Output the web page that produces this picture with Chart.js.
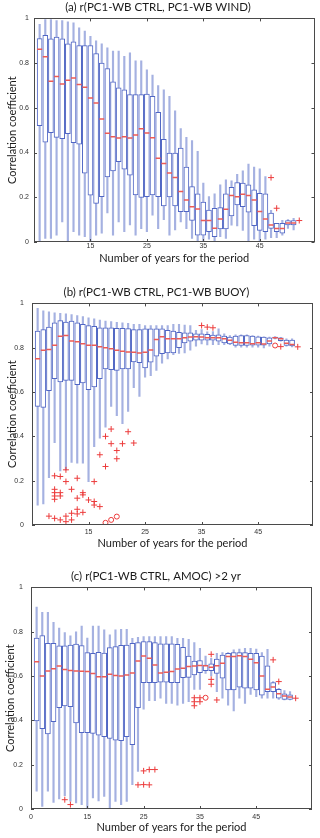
<!DOCTYPE html>
<html>
<head>
<meta charset="utf-8">
<script src="https://cdn.jsdelivr.net/npm/chart.js@4.4.1/dist/chart.umd.min.js"></script>
<style>
  html, body { margin: 0; padding: 0; background: #fff; width: 320px; height: 838px; overflow: hidden; }
  .panel { position: absolute; left: 0; width: 320px; }
</style>
</head>
<body>
<div class="panel" style="top:0px;height:265px"><canvas id="pa"></canvas></div>
<div class="panel" style="top:280px;height:270px"><canvas id="pb"></canvas></div>
<div class="panel" style="top:560px;height:274px"><canvas id="pc"></canvas></div>
<script>
// box index (period length = index + 5 years)
const boxPos = [1,2,3,4,5,6,7,8,9,10,11,12,13,14,15,16,17,18,19,20,21,22,23,24,25,26,27,28,29,30,31,32,33,34,35,36,37,38,39,40,41,42,43,44,45,46,47];
const xTickPos = [0, 10, 20, 30, 40];
const xTickLabelsAB = ['', '15', '25', '35', '45'];
const xTickLabelsC = ['0', '15', '25', '35', '45'];
const yTickPos = [0, 0.2, 0.4, 0.6, 0.8, 1];
const yTickLabels = ['0', '0.2', '0.4', '0.6', '0.8', '1'];

// (a) r(PC1-WB CTRL, PC1-WB WIND)
const aLow  = [0.0,0.016,0.016,0.03,0.09,0.0,0.046,0.03,0.024,0.0, 0.03,0.04,0.13,0.03,0.09,0.046,0.076,0.03,0.06,0.046, 0.12,0.06,0.1,0.03,0.054,0.09,0.06,0.016,0.0,0.0, 0.013,0.0,0.024,0.016,0.075,0.072,0.052,0.0,0.013,0.0, 0.013,0.019,0.019,0.031,0.061,0.054,null];
const aQ1   = [0.52,0.447,0.489,0.468,0.462,0.484,0.444,0.438,0.308,0.209, 0.173,0.203,0.291,0.318,0.359,0.326,0.299,0.21,0.199,0.203, 0.21,0.203,0.161,0.202,0.161,0.136,0.136,0.096,0.03,0.031, 0.046,0.024,0.058,0.058,0.117,0.166,0.158,0.133,0.073,0.052, 0.046,0.061,0.046,0.04,0.076,0.076,null];
const aMed  = [0.862,0.828,0.719,0.74,0.707,0.723,0.734,0.704,0.692,0.644, 0.622,0.55,0.486,0.471,0.465,0.471,0.465,0.478,0.507,0.487, 0.466,0.374,0.351,0.309,0.288,0.226,0.188,0.158,0.148,0.096, 0.096,0.061,0.103,0.146,0.208,0.202,0.214,0.208,0.188,0.136, 0.103,0.076,0.06,0.06,0.085,0.085,null];
const aQ3   = [0.91,0.924,0.909,0.916,0.909,0.886,0.895,0.879,0.879,0.879, 0.843,0.8,0.776,0.716,0.689,0.68,0.659,0.659,0.659,0.662, 0.652,0.58,0.459,0.398,0.398,0.42,0.335,0.248,0.215,0.178, 0.143,0.151,0.154,0.215,0.245,0.266,0.263,0.256,0.233,0.218, 0.215,0.129,0.084,0.084,0.096,0.096,null];
const aHigh = [0.973,0.995,0.995,0.99,0.99,0.985,0.98,0.958,0.943,0.92, 0.9,0.886,0.868,0.854,0.854,0.83,0.846,0.81,0.81,0.77, 0.746,0.7,0.68,0.652,0.587,0.507,0.468,0.454,0.405,0.263, 0.203,0.215,0.256,0.278,0.274,0.303,0.318,0.348,0.335,0.327, 0.293,0.142,0.084,0.097,0.1,0.106,null];
const aOutX = [42, 43, 47];
const aOutY = [0.288, 0.151, 0.096];
const aCircX = [];
const aCircY = [];

// (b) r(PC1-WB CTRL, PC1-WB BUOY)
const bLow  = [0.09,0.095,0.214,0.372,0.244,0.249,0.282,0.279,0.279,0.196, 0.354,0.392,0.442,0.535,0.493,0.457,0.513,0.62,0.58,0.667, 0.674,0.697,0.73,0.75,0.769,0.774,0.777,0.789,0.807,0.817, 0.813,0.814,0.814,0.814,0.814,0.802,0.802,0.802,0.802,0.802, 0.799,0.807,0.84,0.83,0.807,0.804,null];
const bQ1   = [0.535,0.531,0.606,0.66,0.646,0.652,0.653,0.633,0.641,0.611, 0.623,0.66,0.704,0.701,0.697,0.704,0.704,0.736,0.732,0.709, 0.735,0.762,0.773,0.777,0.777,0.8,0.822,0.83,0.834,0.834, 0.834,0.834,0.83,0.822,0.817,0.81,0.81,0.81,0.811,0.811, 0.811,0.817,0.843,0.832,0.81,0.808,null];
const bMed  = [0.75,0.789,0.792,0.811,0.852,0.855,0.83,0.827,0.818,0.811, 0.811,0.804,0.8,0.795,0.789,0.784,0.781,0.78,0.776,0.78, 0.79,0.837,0.85,0.84,0.84,0.84,0.845,0.848,0.849,0.848, 0.845,0.845,0.845,0.84,0.834,0.825,0.822,0.822,0.818,0.822, 0.817,0.83,0.845,0.84,0.82,0.815,null];
const bQ3   = [0.875,0.882,0.893,0.912,0.922,0.916,0.92,0.912,0.905,0.9, 0.897,0.89,0.89,0.89,0.887,0.887,0.886,0.882,0.882,0.885, 0.885,0.885,0.885,0.879,0.875,0.87,0.867,0.867,0.863,0.863, 0.86,0.857,0.858,0.852,0.848,0.852,0.855,0.855,0.852,0.849, 0.848,0.845,0.848,0.845,0.835,0.835,null];
const bHigh = [0.978,0.967,0.962,0.958,0.955,0.953,0.95,0.945,0.94,0.935, 0.93,0.925,0.92,0.918,0.915,0.912,0.91,0.905,0.905,0.9, 0.9,0.9,0.9,0.9,0.905,0.905,0.902,0.9,0.878,0.882, 0.872,0.873,0.885,0.863,0.855,0.858,0.858,0.858,0.855,0.852, 0.849,0.848,0.85,0.847,0.84,0.84,null];
const bOutX = [3, 4,4,4,4,4,4, 5,5,5,5, 6,6,6,6, 7,7,7, 8,8,8,8, 9,9,9, 10, 11,11,11, 12,12, 13,13, 14,14, 15,15, 16, 17, 18, 30,31,32, 44, 47];
const bOutY = [0.04, 0.222,0.161,0.146,0.131,0.116,0.03, 0.219,0.146,0.131,0.023, 0.249,0.196,0.04,0.015, 0.161,0.053,0.023, 0.211,0.121,0.071,0.05, 0.146,0.136,0.057, 0.113, 0.196,0.106,0.09, 0.317,0.083, 0.264,0.4, 0.433,0.367, 0.336,0.299, 0.367, 0.421, 0.37, 0.9,0.893,0.89, 0.805, 0.804];
const bCircX = [13, 14, 15, 43];
const bCircY = [0.01, 0.023, 0.038, 0.81];

// (c) r(PC1-WB CTRL, AMOC) >2 yr
const cLow  = [0.08,0.012,0.08,0.03,0.045,0.06,0.035,0.027,0.019,0.0, 0.05,0.037,0.057,0.0,0.034,0.019,0.034,0.11,0.17,0.45, 0.489,0.489,0.5,0.477,0.477,0.469,0.477,0.484,0.54,0.54, 0.612,0.6,0.53,0.5,0.469,0.443,0.5,0.477,0.517,0.507, 0.5,0.5,0.5,0.495,0.492,0.492,null];
const cQ1   = [0.398,0.363,0.339,0.394,0.457,0.465,0.462,0.389,0.344,0.344, 0.341,0.333,0.326,0.318,0.311,0.308,0.326,0.29,0.457,0.57, 0.57,0.57,0.572,0.572,0.57,0.57,0.593,0.594,0.605,0.615, 0.624,0.624,0.612,0.59,0.537,0.537,0.55,0.545,0.545,0.537, 0.514,0.53,0.53,0.5,0.495,0.495,null];
const cMed  = [0.665,0.6,0.623,0.633,0.645,0.63,0.625,0.623,0.622,0.621, 0.612,0.597,0.597,0.608,0.603,0.6,0.605,0.614,0.668,0.69, 0.68,0.65,0.614,0.617,0.62,0.632,0.635,0.643,0.645,0.647, 0.646,0.64,0.646,0.658,0.688,0.688,0.692,0.688,0.676,0.66, 0.6,0.54,0.55,0.52,0.51,0.505,null];
const cQ3   = [0.771,0.783,0.748,0.748,0.736,0.736,0.74,0.744,0.738,0.706, 0.703,0.707,0.704,0.728,0.733,0.739,0.74,0.748,0.751,0.756, 0.756,0.751,0.745,0.745,0.745,0.743,0.729,0.69,0.668,0.67, 0.65,0.655,0.676,0.695,0.703,0.706,0.706,0.706,0.703,0.703, 0.69,0.646,0.57,0.54,0.52,0.515,null];
const cHigh = [0.911,0.887,0.887,0.842,0.816,0.796,0.781,0.8,0.826,0.771, 0.826,0.826,0.808,0.786,0.808,0.811,0.811,0.77,0.775,0.778, 0.778,0.778,0.778,0.778,0.778,0.77,0.77,0.766,0.751,0.725, 0.69,0.68,0.703,0.706,0.706,0.718,0.722,0.725,0.725,0.722, 0.706,0.72,0.575,0.545,0.534,0.53,null];
const cOutX = [6, 7, 19, 20,20, 21,21, 22, 29,29,29, 30,30, 32,32,32, 33, 43, 44, 47];
const cOutY = [0.042, 0.02, 0.109, 0.11,0.172, 0.109,0.178, 0.178, 0.502,0.484,0.466, 0.502,0.484, 0.698,0.585,0.563, 0.492, 0.673, 0.575, 0.5];
const cCircX = [31];
const cCircY = [0.502];

const RED = '#ec3b3b';
const MED = '#ee5a55';
const BOX = '#5066c4';
const WHISK = 'rgba(105,125,205,0.6)';
const FONT = 'Lato';

function pts(xs, ys) { return xs.map((x, i) => ({ x: x, y: ys[i] })); }
function ranges(lo, hi) {
  return boxPos.map((p, i) => ({ x: p, y: lo[i] == null ? null : [lo[i], hi[i]] }));
}

// axes box with inward ticks, matlab style
const framePlugin = {
  id: 'frame',
  afterDatasetsDraw(chart) {
    const { ctx, chartArea: a, scales } = chart;
    const x = scales.x, y = scales.y;
    ctx.save();
    ctx.strokeStyle = '#4a4a4a';
    ctx.lineWidth = 1;
    ctx.strokeRect(Math.round(a.left) + 0.5, Math.round(a.top) + 0.5,
      Math.round(a.right - a.left) - 1, Math.round(a.bottom - a.top) - 1);
    ctx.beginPath();
    x.ticks.forEach(t => {
      const px = Math.round(x.getPixelForValue(t.value)) + 0.5;
      ctx.moveTo(px, a.bottom); ctx.lineTo(px, a.bottom - 3);
      ctx.moveTo(px, a.top); ctx.lineTo(px, a.top + 3);
    });
    y.ticks.forEach(t => {
      const py = Math.round(y.getPixelForValue(t.value)) + 0.5;
      ctx.moveTo(a.left, py); ctx.lineTo(a.left + 3, py);
      ctx.moveTo(a.right, py); ctx.lineTo(a.right - 3, py);
    });
    ctx.stroke();
    ctx.restore();
  }
};

function drawPanel(id, title, s, xLabels, g) {
  new Chart(document.getElementById(id), {
    type: 'bar',
    data: {
      datasets: [
        { type: 'scatter', data: pts(s.outX, s.outY), pointStyle: 'cross', radius: 3,
          borderColor: RED, backgroundColor: RED, borderWidth: 1 },
        { type: 'scatter', data: pts(s.circX, s.circY), pointStyle: 'circle', radius: 2.5,
          borderColor: RED, backgroundColor: 'rgba(0,0,0,0)', borderWidth: 1 },
        { type: 'scatter', data: pts(boxPos, s.med), pointStyle: 'line', radius: 2.5,
          borderColor: MED, borderWidth: 1.5 },
        { data: ranges(s.q1, s.q3), backgroundColor: '#ffffff', borderColor: BOX, borderWidth: 1,
          borderSkipped: false, barThickness: 5, grouped: false },
        { data: ranges(s.lo, s.hi), backgroundColor: WHISK, borderWidth: 0,
          barThickness: 1.5, grouped: false }
      ]
    },
    options: {
      responsive: true,
      maintainAspectRatio: false,
      animation: false,
      events: [],
      layout: { padding: { left: 0, right: g.right, top: 0, bottom: 0 } },
      plugins: {
        legend: { display: false },
        tooltip: { enabled: false },
        title: { display: true, text: title, color: '#1a1a1a',
          font: { family: FONT, size: 11.5, weight: 'normal' },
          padding: { top: g.tTop, bottom: g.tBot } }
      },
      scales: {
        x: {
          type: 'linear', min: 0, max: g.xMax, offset: false,
          grid: { display: false, drawTicks: false }, border: { display: false },
          afterBuildTicks: sc => { sc.ticks = xTickPos.map(v => ({ value: v })); },
          ticks: { autoSkip: false, maxRotation: 0, padding: g.xPad, color: '#333',
            font: { family: 'Liberation Sans', size: 7 },
            callback: (v, i) => xLabels[i] },
          title: { display: true, text: 'Number of years for the period', color: '#1a1a1a',
            font: { family: FONT, size: 11 }, padding: { top: 0, bottom: 0 } },
          afterFit: sc => { sc.height = g.xH; }
        },
        y: {
          min: 0, max: 1,
          grid: { display: false, drawTicks: false }, border: { display: false },
          afterBuildTicks: sc => { sc.ticks = yTickPos.map(v => ({ value: v })); },
          ticks: { padding: g.yPad, color: '#333',
            font: { family: 'Liberation Sans', size: 7 },
            callback: (v, i) => yTickLabels[i] },
          title: { display: true, text: 'Correlation coefficient', color: '#1a1a1a',
            font: { family: FONT, size: 11 }, padding: { top: g.yTitlePad, bottom: 0 } },
          afterFit: sc => { sc.width = g.left; }
        }
      }
    },
    plugins: [framePlugin]
  });
}

drawPanel('pa', '(a) r(PC1-WB CTRL, PC1-WB WIND)',
  { lo: aLow, q1: aQ1, med: aMed, q3: aQ3, hi: aHigh, outX: aOutX, outY: aOutY, circX: aCircX, circY: aCircY },
  xTickLabelsAB,
  { left: 34, right: 4, xMax: 49.7, tTop: 0.8, tBot: 3.8, xH: 23, xPad: 0, yPad: 5, yTitlePad: 6 });

drawPanel('pb', '(b) r(PC1-WB CTRL, PC1-WB BUOY)',
  { lo: bLow, q1: bQ1, med: bMed, q3: bQ3, hi: bHigh, outX: bOutX, outY: bOutY, circX: bCircX, circY: bCircY },
  xTickLabelsAB,
  { left: 32, right: 7, xMax: 49.7, tTop: 5.8, tBot: 3.8, xH: 25, xPad: 3, yPad: 8, yTitlePad: 6 });

drawPanel('pc', '(c) r(PC1-WB CTRL, AMOC) >2 yr',
  { lo: cLow, q1: cQ1, med: cMed, q3: cQ3, hi: cHigh, outX: cOutX, outY: cOutY, circX: cCircX, circY: cCircY },
  xTickLabelsC,
  { left: 31, right: 8, xMax: 49.9, tTop: 9.8, tBot: 3.8, xH: 25, xPad: 3.5, yPad: 8, yTitlePad: 3.5 });
</script>
</body>
</html>
